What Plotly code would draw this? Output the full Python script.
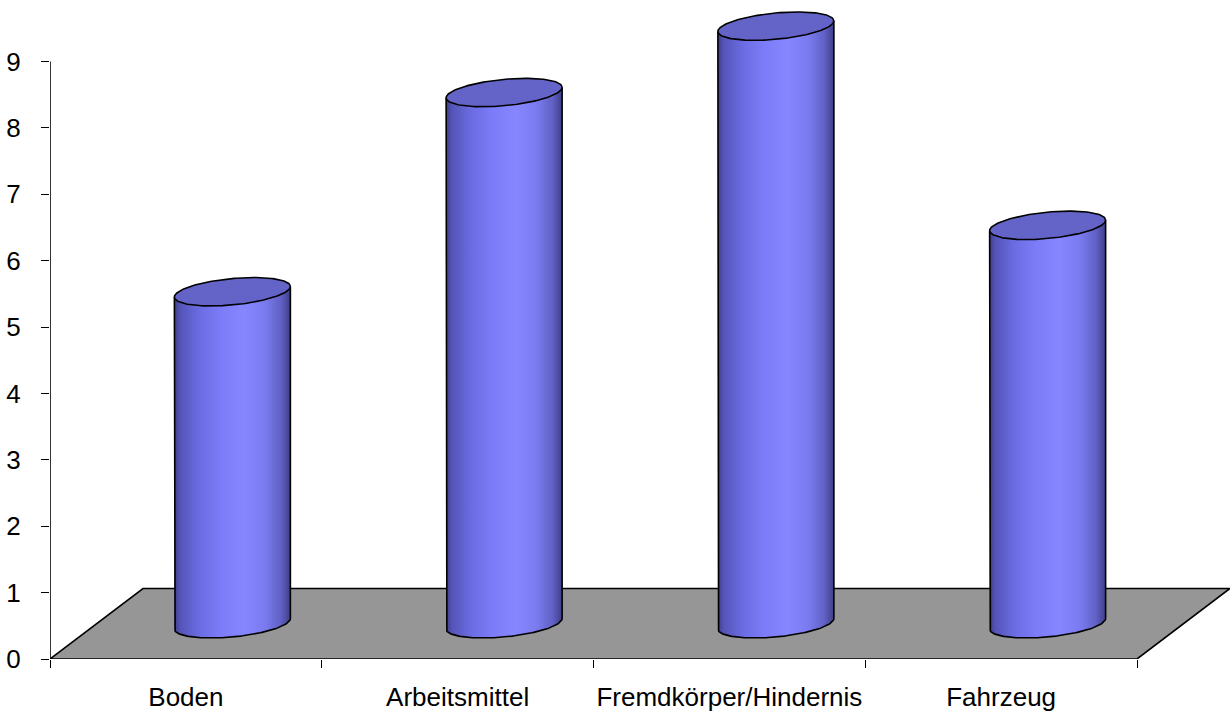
import numpy as np
import plotly.graph_objects as go

# Data
categories = ["Boden", "Arbeitsmittel", "Fremdkörper/Hindernis", "Fahrzeug"]
values = [5, 8, 9, 6]
y_ticks = list(range(0, 10))

# Oblique projection of the 3D floor and cylinders (in axis units)
PX_X = 271.75          # pixels per category slot
PX_Y = 66.4            # pixels per value unit
DEPTH_DX = 93 / PX_X   # floor depth, horizontal shift
DEPTH_DY = 70.5 / PX_Y # floor depth, vertical shift
R_X = 58 / PX_X        # cylinder radius (horizontal)
ELL_C = 5.3 / PX_Y     # ellipse tilt
ELL_D = 13.2 / PX_Y    # ellipse depth semi-axis

BODY_SCALE = [
    [0.00, "#3e3e88"],
    [0.05, "#5454b8"],
    [0.20, "#6a6ae0"],
    [0.40, "#7c7cf8"],
    [0.60, "#8686ff"],
    [0.78, "#7b7bf0"],
    [0.92, "#6060c4"],
    [1.00, "#3e3e88"],
]
TOP_COLOR = "#6464c8"
FLOOR_COLOR = "#969696"
LINE = dict(color="black", width=1.6)

fig = go.Figure()

# Floor
x0, x1 = -0.5, len(categories) - 0.5
fig.add_trace(go.Scatter(
    x=[x0, x1, x1 + DEPTH_DX, x0 + DEPTH_DX, x0],
    y=[0, 0, DEPTH_DY, DEPTH_DY, 0],
    mode="lines", fill="toself", fillcolor=FLOOR_COLOR,
    line=dict(color="black", width=1.6), hoverinfo="skip",
))


def ellipse(cx, cy, th):
    return cx + R_X * np.cos(th), cy + ELL_C * np.cos(th) - ELL_D * np.sin(th)


for i, v in enumerate(values):
    cx = i + DEPTH_DX / 2
    yb = DEPTH_DY / 2
    yt = yb + v
    front = np.linspace(np.pi, 0, 80)
    tx, ty = ellipse(cx, yt, front)
    bx, by = ellipse(cx, yb, front[::-1])
    body_x = np.concatenate([tx, bx, tx[:1]])
    body_y = np.concatenate([ty, by, ty[:1]])
    fig.add_trace(go.Scatter(
        x=body_x, y=body_y, mode="lines", fill="toself",
        line=dict(width=0),
        fillgradient=dict(type="horizontal", colorscale=BODY_SCALE,
                          start=cx - R_X, stop=cx + R_X),
        hoverinfo="skip",
    ))
    # silhouette: sides and front arc of the base
    sx = np.concatenate([[tx[0]], bx[::-1], [tx[-1]]])
    sy = np.concatenate([[ty[0]], by[::-1], [ty[-1]]])
    fig.add_trace(go.Scatter(x=sx, y=sy, mode="lines", line=LINE, hoverinfo="skip"))
    # top cap
    full = np.linspace(0, 2 * np.pi, 160)
    ex, ey = ellipse(cx, yt, full)
    fig.add_trace(go.Scatter(
        x=ex, y=ey, mode="lines", fill="toself", fillcolor=TOP_COLOR,
        line=LINE, hoverinfo="skip",
    ))

# Value axis line
fig.add_trace(go.Scatter(
    x=[x0, x0], y=[0, max(y_ticks)], mode="lines",
    line=dict(color="black", width=1.6), hoverinfo="skip",
))

W, H = 1232, 718
ml, mr, mt, mb = 50, 2, 5, 59
x_range = [x0, x0 + (W - ml - mr) / PX_X]
y_range = [0, (H - mt - mb) / PX_Y]

font = dict(family="Liberation Sans, Arial, sans-serif", size=26, color="black")

fig.update_layout(
    width=W, height=H,
    margin=dict(l=ml, r=mr, t=mt, b=mb),
    paper_bgcolor="white", plot_bgcolor="white",
    showlegend=False,
    font=font,
    xaxis=dict(
        range=x_range, showgrid=False, zeroline=False, showline=False,
        tickmode="array", tickvals=list(range(len(categories))),
        ticktext=categories, ticks="", ticklabelstandoff=20,
        minor=dict(tickmode="array",
                   tickvals=[k - 0.5 for k in range(len(categories) + 1)],
                   ticks="outside", ticklen=8, tickcolor="black", tickwidth=1,
                   showgrid=False),
        tickfont=font, fixedrange=True,
    ),
    yaxis=dict(
        range=y_range, showgrid=False, zeroline=False, showline=False,
        tickmode="array", tickvals=y_ticks, ticks="outside", ticklen=8,
        tickcolor="black", tickwidth=1, ticklabelstandoff=15,
        tickfont=font, fixedrange=True,
    ),
)

fig.write_html("out.html")
